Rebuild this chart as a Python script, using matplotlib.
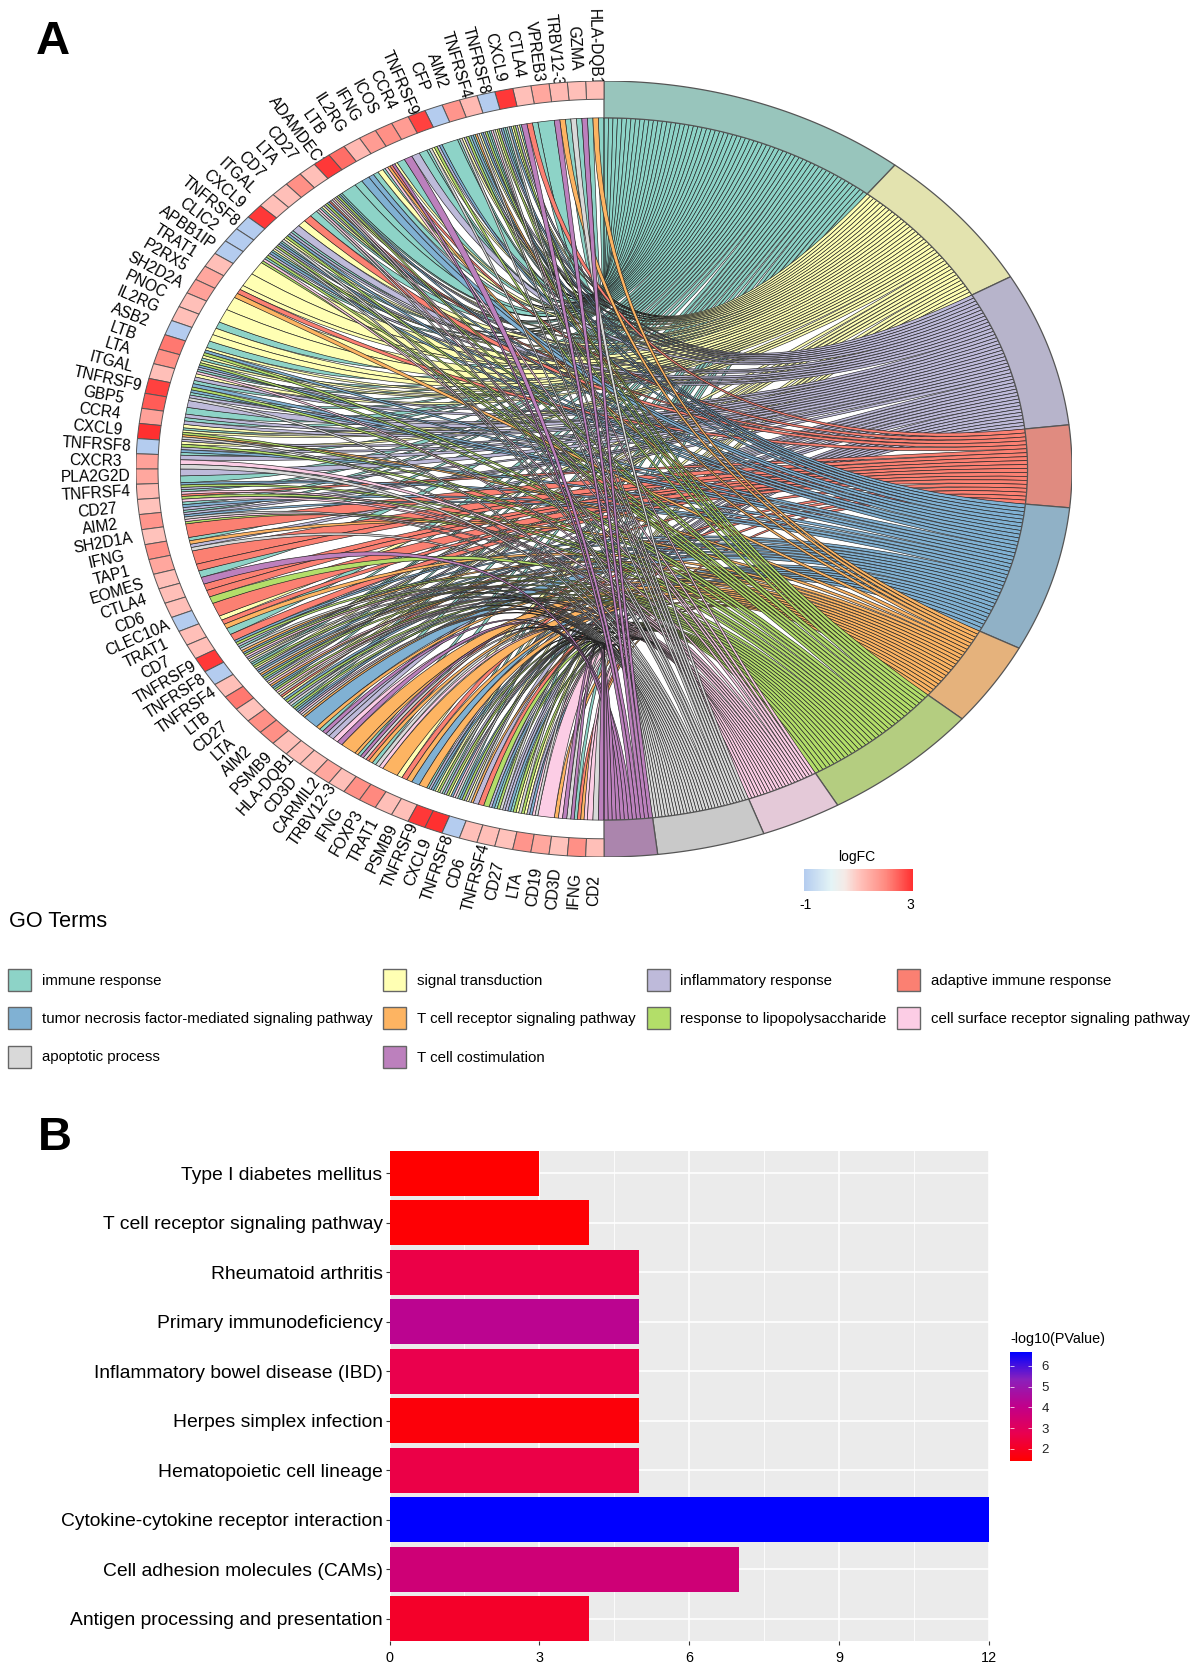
import numpy as np
import matplotlib
matplotlib.use("Agg")
import matplotlib.pyplot as plt
from matplotlib.colors import LinearSegmentedColormap, Normalize
from matplotlib.cm import ScalarMappable
from matplotlib.patches import PathPatch, Rectangle
from matplotlib.path import Path

plt.rcParams["font.family"] = ["Liberation Sans", "DejaVu Sans"]

# GO terms, clockwise from the top of the chord diagram
term_codes = "IYPRBOGKAM"
term_names = ["immune response", "signal transduction", "inflammatory response",
              "adaptive immune response", "tumor necrosis factor-mediated signaling pathway",
              "T cell receptor signaling pathway", "response to lipopolysaccharide",
              "cell surface receptor signaling pathway", "apoptotic process",
              "T cell costimulation"]
term_colors = ["#8DD3C7", "#FFFFB3", "#BEBADA", "#FB8072", "#80B1D3",
               "#FDB462", "#B3DE69", "#FCCDE5", "#D9D9D9", "#BC80BD"]
band_colors = ["#98C5BC", "#E3E3AF", "#B7B4CB", "#E08B80", "#90B1C6",
               "#E5B27C", "#B4CD80", "#E4C9D8", "#C9C9C9", "#AB85AD"]
term_spans = [38.5, 21.9, 23.2, 12.3, 21.8, 12.6, 20.0, 10.0, 13.4, 6.6]

# genes, counter-clockwise from the top
genes = ["HLA-DQB1", "GZMA", "TRBV12-3", "VPREB3", "CTLA4", "CXCL9", "TNFRSF8", "TNFRSF4",
         "AIM2", "CFP", "TNFRSF9", "CCR4", "ICOS", "IFNG", "IL2RG", "LTB", "ADAMDEC1", "CD27",
         "LTA", "CD7", "ITGAL", "CXCL9", "TNFRSF8", "CLIC2", "APBB1IP", "TRAT1", "P2RX5",
         "SH2D2A", "PNOC", "IL2RG", "ASB2", "LTB", "LTA", "ITGAL", "TNFRSF9", "GBP5", "CCR4",
         "CXCL9", "TNFRSF8", "CXCR3", "PLA2G2D", "TNFRSF4", "CD27", "AIM2", "SH2D1A", "IFNG",
         "TAP1", "EOMES", "CTLA4", "CD6", "CLEC10A", "TRAT1", "CD7", "TNFRSF9", "TNFRSF8",
         "TNFRSF4", "LTB", "CD27", "LTA", "AIM2", "PSMB9", "HLA-DQB1", "CD3D", "CARMIL2",
         "TRBV12-3", "IFNG", "FOXP3", "TRAT1", "PSMB9", "TNFRSF9", "CXCL9", "TNFRSF8", "CD6",
         "TNFRSF4", "CD27", "LTA", "CD19", "CD3D", "IFNG", "CD2"]
logfc = [1.1, 1.1, 1.2, 1.5, 1.1, 2.9, -1, 1.2, 1.8, -1,
         2.8, 1.7, 1.9, 1.7, 1.2, 2.3, 2.9, 1.1, 1.9, 1.1,
         1.1, 2.9, -1, -1, -1, 1.1, 1.5, 1.6, 1.1, 1.1,
         -1, 2.2, 1.9, 1.1, 2.8, 2.5, 1.6, 3.0, -1, 1.6,
         1.5, 1.2, 1.05, 1.8, 1.05, 1.9, 1.5, 1.1, 1.1, 1.1,
         -1, 1.1, 1.1, 2.9, -1, 1.1, 2.2, 1.05, 1.9, 1.9,
         1.1, 1.1, 1.1, 1.5, 1.1, 1.9, 2.0, 1.1, 1.1, 2.9,
         3.0, -1, 1.1, 1.1, 1.05, 1.8, 1.5, 1.05, 1.9, 1.1]

# terms linked to each gene cell, in order along the circle
gene_links = ["IOI", "MIA", "IOM", "I", "IRM", "IYPGYBAI", "IBPGYAKI", "IGPBYAOI",
              "BIGPYAI", "I", "BPGYAI", "IP", "MI", "YMROKI", "YIB", "BI", "I", "IBGPYKAR",
              "BGPYIKA", "IR", "YP", "IPBGYA", "IBPGAYI", "BPGIKG", "Y", "Y", "YRO", "Y",
              "Y", "IY", "YI", "YBGYI", "YGBPIK", "YPIB", "GBIPA", "PI", "PIPY", "IYGOAP",
              "YGPBI", "PKA", "PI", "BGPIKR", "GKIBP", "IPBAKG", "R", "IOPA", "R", "RI",
              "MR", "RG", "R", "YRO", "IR", "BGPIAO", "BGKPYAI", "IGYPBAO", "BGIPYKO",
              "BIGKYAR", "YBGPAI", "GIBPKAO", "B", "OIMP", "PKM", "O", "OIMAR", "OIAK",
              "O", "YRO", "BO", "IPBIYGA", "IPGYBKA", "IBGPYAO", "PRG", "PBIGAP", "PBIGYA",
              "GYPBKA", "K", "OKMA", "MIROK", "KAM"]

# panel B
pathways = ["Antigen processing and presentation", "Cell adhesion molecules (CAMs)",
            "Cytokine-cytokine receptor interaction", "Hematopoietic cell lineage",
            "Herpes simplex infection", "Inflammatory bowel disease (IBD)",
            "Primary immunodeficiency", "Rheumatoid arthritis",
            "T cell receptor signaling pathway", "Type I diabetes mellitus"]
gene_counts = [4, 7, 12, 5, 5, 5, 5, 5, 4, 3]
minus_log_p = [2.1, 3.6, 6.67, 2.6, 1.6, 2.7, 4.2, 2.6, 1.5, 1.42]

W, H = 1200, 1668
fc_cmap = LinearSegmentedColormap.from_list("fc", [(0, "#B4CCEF"), (0.25, "#E4F4F6"), (0.375, "#F5EAE6"),
                                                   (0.5, "#FFC5BE"), (0.75, "#FF8A80"), (1, "#FF3030")])
fc_norm = Normalize(-1, 3)
p_cmap = LinearSegmentedColormap.from_list("p", ["#FF0000", "#E9004F", "#C1008A", "#8A20BC", "#0000FF"])
p_norm = Normalize(1.42, 6.67)


def box(x0, y0, x1, y1):
    # pixel box (y from the top) to figure fractions
    return [x0 / W, 1 - y1 / H, (x1 - x0) / W, (y1 - y0) / H]


def polar(ang, r):
    a = np.radians(ang)
    return np.column_stack([r * np.cos(a), r * np.sin(a)])


fig = plt.figure(figsize=(W / 100, H / 100), dpi=100)

# overlay in pixel units for the legend and panel letters
over = fig.add_axes([0, 0, 1, 1])
over.set_xlim(0, W)
over.set_ylim(H, 0)
over.axis("off")

# chord diagram
ax = fig.add_axes(box(136, 81, 1072, 857))
ax.set_xlim(-1, 1)
ax.set_ylim(-1, 1)
ax.axis("off")

R_OUT, R_GENE, R_IN = 1.0, 0.953, 0.905
n_cells = len(genes)
cell_deg = 180 / n_cells
spans = np.array(term_spans) * 180 / sum(term_spans)
term_start = 90 - np.concatenate([[0], np.cumsum(spans)])

# term bands
for i, col in enumerate(band_colors):
    arc = np.linspace(term_start[i], term_start[i + 1], 60)
    pts = np.vstack([polar(arc, R_OUT), polar(arc[::-1], R_IN)])
    ax.fill(pts[:, 0], pts[:, 1], facecolor=col, edgecolor="#555555", lw=0.9, zorder=3)

# gene cells and labels; the ring covers the ends of the longest names
for i, g in enumerate(genes):
    arc = np.linspace(90 + i * cell_deg, 90 + (i + 1) * cell_deg, 8)
    pts = np.vstack([polar(arc, R_OUT), polar(arc[::-1], R_GENE)])
    ax.fill(pts[:, 0], pts[:, 1], facecolor=fc_cmap(fc_norm(logfc[i])), edgecolor="#555555", lw=0.7, zorder=3)
    mid = 90 + (i + 0.5) * cell_deg
    p = polar([mid], 1.087)[0]
    ax.text(p[0], p[1], g, rotation=mid - 180, rotation_mode="anchor", ha="center", va="center",
            fontsize=11.2, color="black", clip_on=False, zorder=1)

# ribbons, one term at a time so later terms lie on top
for t, code in enumerate(term_codes):
    links = []
    for i, cell in enumerate(gene_links):
        w = cell_deg / len(cell)
        for k, c in enumerate(cell):
            if c == code:
                links.append((90 + i * cell_deg + k * w, w))
    step = spans[t] / max(len(links), 1)
    for j, (left0, w) in enumerate(links):
        r0 = term_start[t] - j * step
        r1 = r0 - step
        right = polar(np.linspace(r0, r1, 3), R_IN)
        left = polar(np.linspace(left0 + w, left0, 4), R_IN)
        verts = [right[0], right[1], right[2], (0, 0), left[0], left[1], left[2], left[3], (0, 0), right[0], right[0]]
        codes = [Path.MOVETO, Path.LINETO, Path.LINETO, Path.CURVE3, Path.CURVE3, Path.LINETO, Path.LINETO,
                 Path.LINETO, Path.CURVE3, Path.CURVE3, Path.CLOSEPOLY]
        ax.add_patch(PathPatch(Path(verts, codes), facecolor=term_colors[t], edgecolor="#222222", lw=0.45, zorder=2))

# logFC colour bar
over.text(857, 857, "logFC", ha="center", va="center", fontsize=10)
cax = fig.add_axes(box(804, 869, 913, 891))
cb_fc = fig.colorbar(ScalarMappable(norm=fc_norm, cmap=fc_cmap), cax=cax, orientation="horizontal")
cb_fc.set_ticks([])
cb_fc.outline.set_visible(False)
over.text(805, 905, "-1", ha="center", va="center", fontsize=10)
over.text(910, 905, "3", ha="center", va="center", fontsize=10)

# GO term legend
over.text(9, 921, "GO Terms", ha="left", va="center", fontsize=15.6)
col_x = [8, 383, 646.5, 897]
row_y = [980, 1018, 1057]
for n, name in enumerate(term_names):
    x, y = col_x[n % 4], row_y[n // 4]
    over.add_patch(Rectangle((x, y - 11), 23, 22, facecolor=term_colors[n], edgecolor="#666666", lw=1.0))
    over.text(x + 34, y + 0.5, name, ha="left", va="center", fontsize=10.8)

over.text(36, 42, "A", ha="left", va="center", fontsize=34, fontweight="bold")
over.text(38, 1138, "B", ha="left", va="center", fontsize=34, fontweight="bold")

# bar panel
bx = fig.add_axes(box(389.5, 1151, 989, 1641))
bx.set_facecolor("#EBEBEB")
y_pos = np.arange(len(pathways))
bx.barh(y_pos, gene_counts, height=0.9, color=[p_cmap(p_norm(v)) for v in minus_log_p], zorder=3)
bx.set_xlim(0, 12)
bx.set_ylim(-0.45, len(pathways) - 0.55)
bx.set_xticks([0, 3, 6, 9, 12])
bx.set_xticks([1.5, 4.5, 7.5, 10.5], minor=True)
bx.set_yticks(y_pos)
bx.set_yticklabels(pathways, fontsize=13.9, color="black")
bx.tick_params(axis="x", which="major", labelsize=10.4, length=3, color="#333333", pad=4)
bx.tick_params(axis="x", which="minor", length=0)
bx.tick_params(axis="y", length=3, color="#333333", pad=2)
bx.grid(True, which="major", color="white", lw=1.2, zorder=1)
bx.grid(True, which="minor", axis="x", color="white", lw=0.6, zorder=1)
bx.set_axisbelow(True)
for s in bx.spines.values():
    s.set_visible(False)

# -log10(PValue) colour bar
over.text(1010, 1339, "-log10(PValue)", ha="left", va="center", fontsize=10.4)
pax = fig.add_axes(box(1010, 1352, 1032, 1461))
cb = fig.colorbar(ScalarMappable(norm=p_norm, cmap=p_cmap), cax=pax)
cb.set_ticks([2, 3, 4, 5, 6])
cb.outline.set_visible(False)
pax.tick_params(axis="y", length=0, labelsize=9.5, pad=7, labelcolor="#222222")
pax.hlines([2, 3, 4, 5, 6], 0, 0.2, color="white", lw=0.5, transform=pax.get_yaxis_transform())
pax.hlines([2, 3, 4, 5, 6], 0.8, 1, color="white", lw=0.5, transform=pax.get_yaxis_transform())

fig.savefig("out.png", dpi=100)
